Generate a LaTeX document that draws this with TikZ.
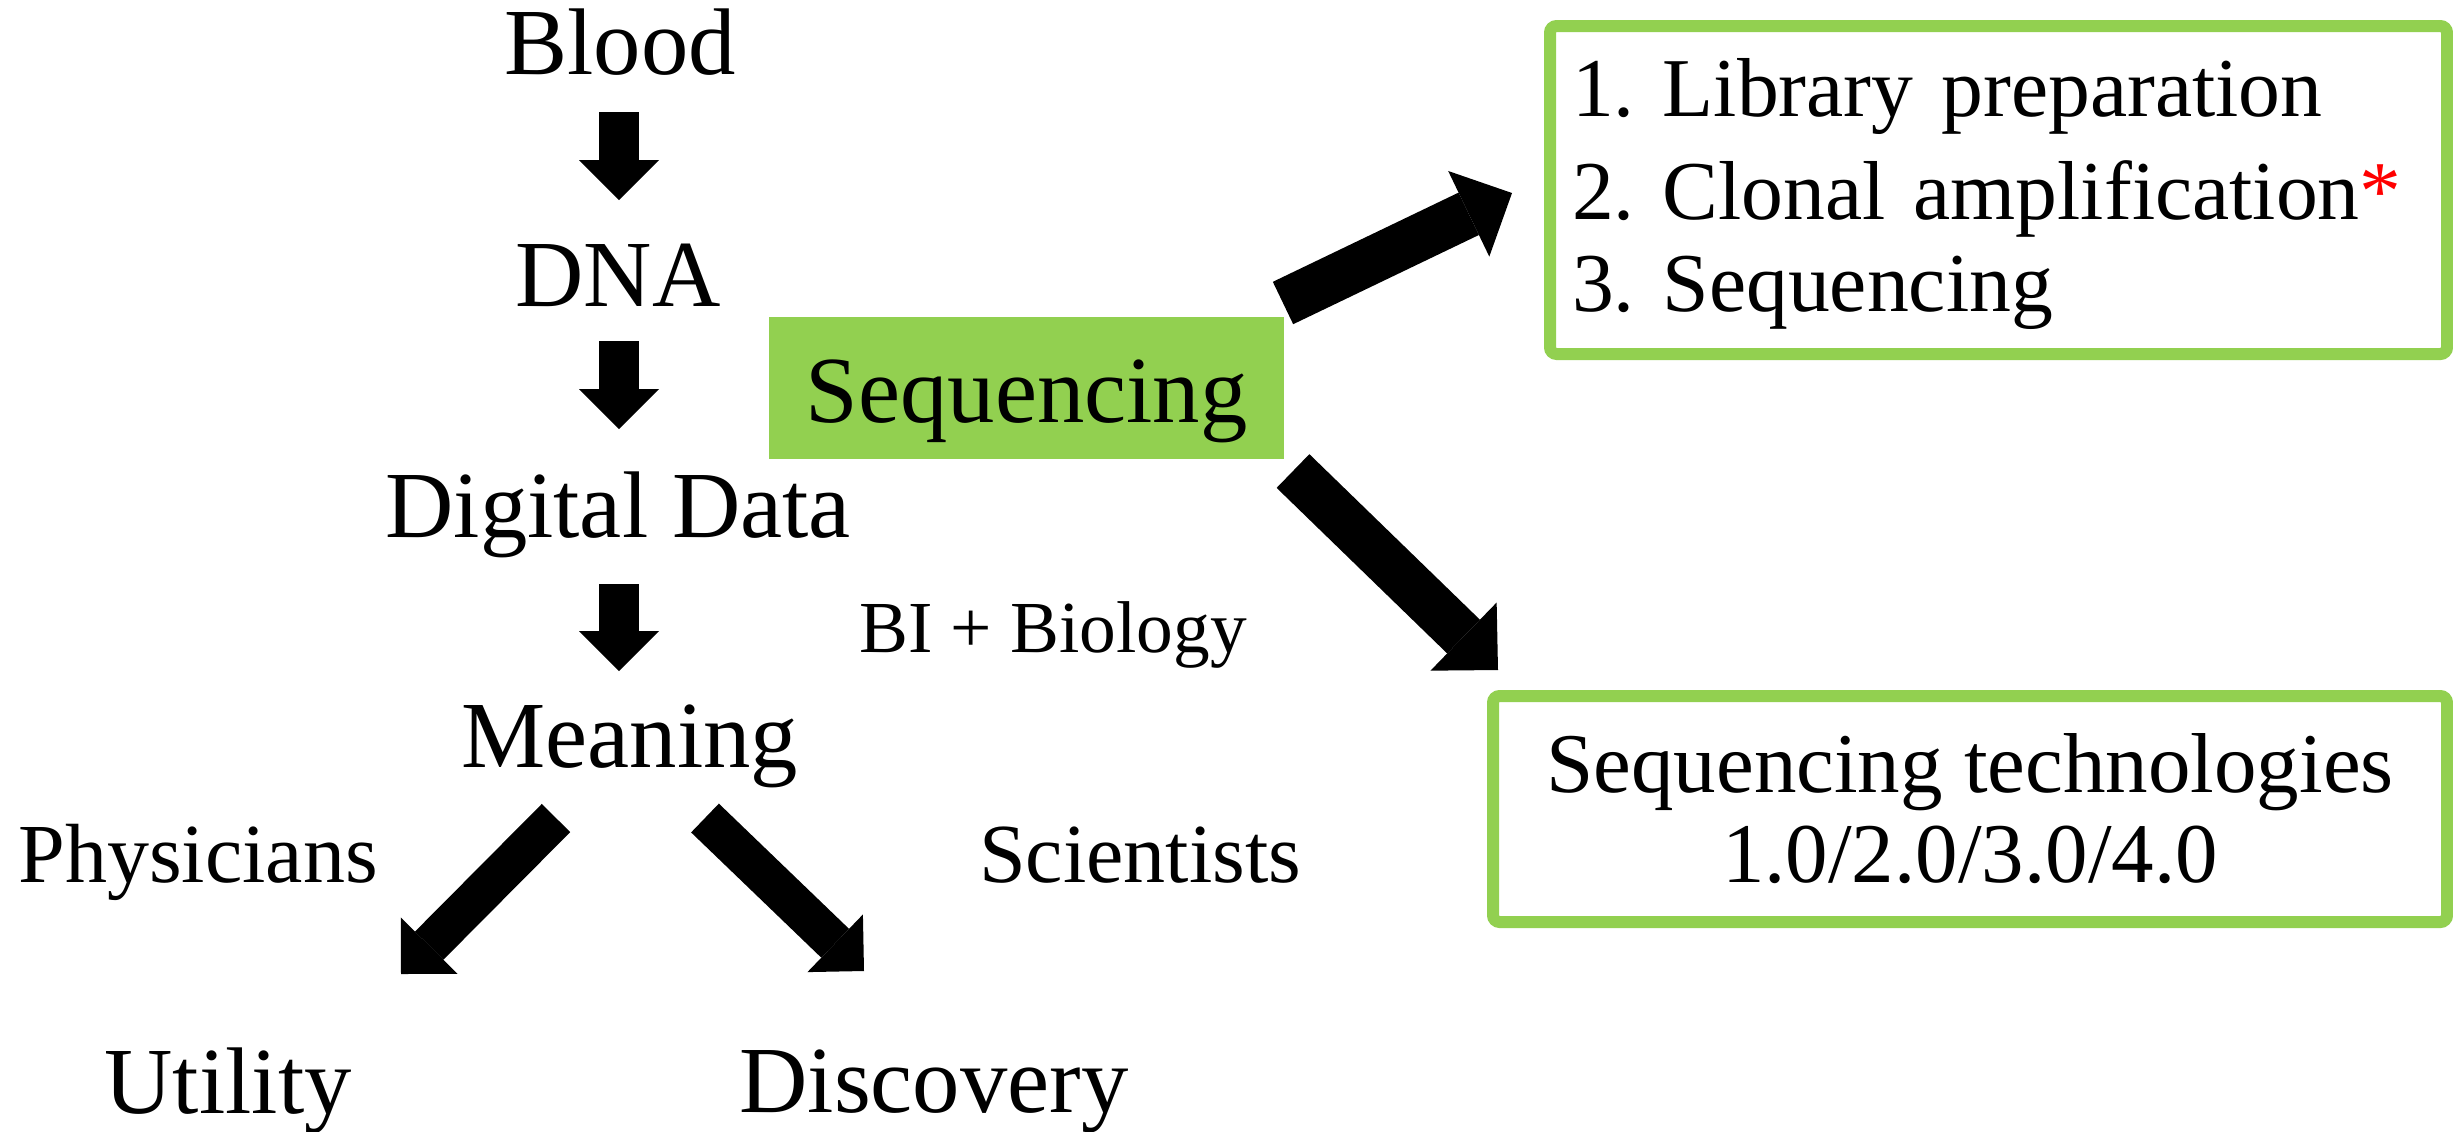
\documentclass[tikz,border=0pt]{standalone}
\usepackage{fontspec}
\setmainfont{Liberation Serif}
\usetikzlibrary{arrows.meta}
\definecolor{seqgreen}{RGB}{146,208,80}

\newcommand{\flowfont}{\fontsize{28.4pt}{34pt}\selectfont}
\newcommand{\rolefont}{\fontsize{25.2pt}{30pt}\selectfont}
\newcommand{\notefont}{\fontsize{22pt}{26pt}\selectfont}
\newcommand{\listfont}{\fontsize{25.1pt}{27.6pt}\selectfont\frenchspacing}
\newcommand{\techfont}{\fontsize{25.5pt}{27pt}\selectfont}

\begin{document}
\begin{tikzpicture}[x=0.3pt, y=-0.3pt,
  word/.style={anchor=base, inner sep=0pt, font=\flowfont},
  role/.style={anchor=base, inner sep=0pt, font=\rolefont},
  blockarrow/.style={line width=12pt, -{Triangle[width=24pt,length=12pt,line width=0pt]}},
  widearrow/.style={line width=14.1pt, -{Triangle[width=28.5pt,length=14.4pt,line width=0pt]}},
  greenbox/.style={draw=seqgreen, line width=3.6pt, rounded corners=2pt, inner sep=0pt}]
\useasboundingbox (0,0) rectangle (2453,1131);

  % flow
  \node[word] (blood) at (620,74) {Blood};
  \node[word] (dna) at (618,306) {DNA};
  \node[word] (data) at (618,537) {Digital Data};
  \node[word] (meaning) at (630,767) {Meaning};
  \node[word] (utility) at (228,1113) {Utility};
  \node[word] (discovery) at (934,1112) {Discovery};

  \node[role] (physicians) at (198,882) {Physicians};
  \node[role] (scientists) at (1140,882) {Scientists};
  \node[anchor=base, inner sep=0pt, font=\notefont] (bibio) at (1053,652) {BI + Biology};

  \coordinate (bloodout) at (619,112);
  \coordinate (dnain) at (619,200);
  \coordinate (dnaout) at (619,341);
  \coordinate (datain) at (619,429);
  \coordinate (dataout) at (619,584);
  \coordinate (meaningin) at (619,671);
  \coordinate (useout) at (556,818);
  \coordinate (usein) at (401,974);
  \coordinate (discout) at (705,818);
  \coordinate (discin) at (864,971);

  \draw[blockarrow] (bloodout) -- (dnain);
  \draw[blockarrow] (dnaout) -- (datain);
  \draw[blockarrow] (dataout) -- (meaningin);
  \draw[blockarrow] (useout) -- (usein);
  \draw[blockarrow] (discout) -- (discin);

  % sequencing
  \node[fill=seqgreen, inner sep=0pt, minimum width=154.5pt,
        text height=31.5pt, text depth=11.1pt, font=\flowfont]
        (seq) at (1026.5,388) {Sequencing};

  \node[greenbox, minimum width=269.1pt, minimum height=98.4pt,
        text width=255.9pt, align=left, font=\listfont] (steps) at (1998.5,190)
        {\rule{0pt}{20.1pt}1. Library preparation\\[3.3pt]
         2. Clonal amplification\textcolor{red}{*}\\
         3. Sequencing};

  \node[greenbox, minimum width=286.2pt, minimum height=67.8pt,
        align=center, font=\techfont] (tech) at (1970,809)
        {Sequencing technologies\\ 1.0/2.0/3.0/4.0};

  \coordinate (stepsout) at (1283,303);
  \coordinate (stepsin) at (1512,193);
  \coordinate (techout) at (1293,471);
  \coordinate (techin) at (1498,670);

  \draw[widearrow] (stepsout) -- (stepsin);
  \draw[widearrow] (techout) -- (techin);
\end{tikzpicture}
\end{document}
